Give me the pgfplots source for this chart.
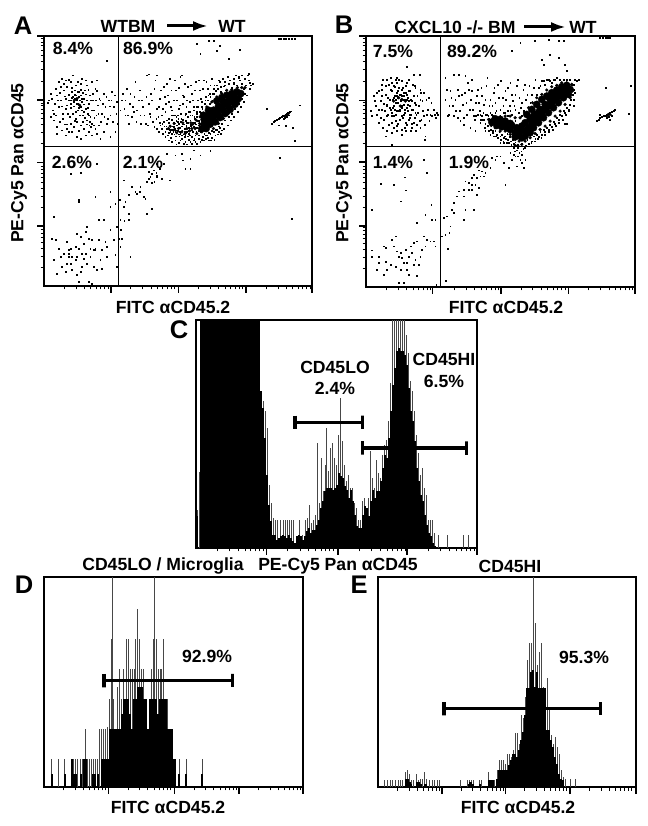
\documentclass[border=0pt]{standalone}
\usepackage{fontspec}
\setmainfont{Liberation Sans}
\usepackage{pgfplots}
\pgfplotsset{compat=1.18}
\usetikzlibrary{arrows.meta}
\pgfplotsset{
 flow/.style={scale only axis,axis line style={line width=2.3pt},
  tick align=outside,xticklabels={},yticklabels={},xtick pos=bottom,ytick pos=left,
  major tick length=7pt,minor tick length=3.5pt,
  every tick/.style={black,line width=1.1pt},
  every major tick/.style={black,line width=1.6pt},
  every minor tick/.style={black,line width=0.8pt},clip=true},
 dots/.style={only marks,mark=square*,mark size=0.42pt,black,mark options={draw=none,fill=black}},
 mid/.style={only marks,mark=*,mark size=1.4pt,black,mark options={draw=none,fill=black}},
 core/.style={only marks,mark=*,mark size=3.6pt,black,mark options={draw=none,fill=black}},
 spike/.style={ycomb,black!72,line width=0.7pt,mark=none},
 solid core/.style={ycomb,black,line width=2.15pt,mark=none},
 gate/.style={black,line width=3.4pt,mark=none},
}
\begin{document}
\begin{tikzpicture}
\path[use as bounding box] (0,0) rectangle (647pt,826pt);

% ---------- Panel A
\begin{axis}[flow,at={(44pt,790pt)},anchor=north west,width=268pt,height=250pt,
 xmin=131,xmax=936,ymin=107,ymax=858,y dir=reverse,
 xtick={332,535,738,936},
 minor xtick={191,227,252,271,287,301,313,323,392,428,453,472,488,502,514,524,595,631,656,675,691,705,717,727,798,834,859,878,894,908,920,930},
 ytick={678,487,300,107},
 minor ytick={801,768,745,727,712,699,688,679,621,588,565,547,532,519,508,499,430,397,374,356,341,328,317,308,242,208,184,165,150,136,125,115}]
\addplot[dots] coordinates {(155,295)(162,310)(170,285)(175,320)(182,300)(188,340)(190,270)(196,295)(200,315)(205,283)(208,350)(212,300)(215,275)(218,290)(220,305)(222,295)(225,285)(228,310)(230,298)(232,330)(235,290)(238,300)(240,320)(242,285)(245,305)(248,345)(250,295)(252,270)(255,325)(258,300)(260,360)(262,340)(265,310)(268,285)(270,350)(275,370)(278,300)(280,330)(285,265)(288,345)(292,315)(295,375)(300,300)(305,340)(310,280)(315,320)(320,370)(325,300)(330,345)(335,275)(340,320)(345,395)(350,305)(160,360)(170,380)(178,365)(185,390)(192,372)(198,385)(205,395)(212,370)(220,380)(228,365)(235,392)(242,375)(250,385)(258,372)(265,395)(272,380)(280,375)(290,400)(185,235)(195,240)(205,238)(218,225)(232,245)(245,235)(200,260)(225,255)(260,255)(180,260)(300,415)(240,415)(320,180)(210,520)(240,517)(290,490)(215,292)(222,283)(228,300)(235,275)(210,310)(243,295)(236,322)(250,335)(226,335)(265,345)
(142,308)(150,280)(158,330)(165,345)(172,300)(178,278)(183,318)(187,355)(192,288)(197,325)(203,340)(206,300)(211,322)(214,262)(217,340)(221,318)(224,270)(227,355)(231,275)(233,310)(237,345)(241,268)(244,330)(247,278)(251,312)(254,352)(257,282)(261,322)(264,268)(267,375)(271,300)(274,330)(277,280)(282,352)(286,300)(290,272)(294,340)(297,295)(302,365)(307,310)(312,350)(318,290)(323,355)(328,318)(333,300)(338,365)(343,285)(348,340)(352,370)(165,265)(175,245)(190,250)(210,245)(240,250)(255,240)(275,245)(290,240)(170,400)(195,405)(215,395)(230,410)(255,405)(275,405)(310,395)(330,410)(160,340)(150,350)(146,300)(200,372)(222,362)(248,365)(268,365)(285,385)
(365,300)(372,325)(380,265)(388,310)(395,350)(402,290)(410,330)(418,270)(425,300)(432,345)(440,225)(445,310)(452,280)(458,365)(465,240)(470,325)(478,295)(485,345)(490,260)(496,310)(503,285)(508,235)(515,330)(520,300)(526,270)(532,345)(538,315)(545,225)(550,290)(556,340)(562,260)(568,305)(574,280)(580,330)(586,245)(592,300)(598,270)(604,320)(610,240)(616,290)(622,265)(628,310)(634,235)(640,280)(375,345)(385,370)(398,320)(408,365)(420,345)(436,370)(448,340)(462,380)(474,350)(486,370)(495,335)(505,355)(512,320)(524,345)(535,325)(548,310)(558,320)(570,345)(582,350)(590,335)(640,120)(650,150)(625,120)(720,147)(685,175)(600,160)(590,130)(660,135)
(360,330)(368,280)(375,300)(382,345)(390,280)(400,335)(405,245)(415,300)(422,370)(428,320)(438,290)(443,375)(450,350)(455,300)(462,265)(468,355)(475,320)(482,270)(488,325)(493,290)(500,250)(506,305)(513,270)(518,345)(523,240)(530,300)(536,262)(541,340)(547,285)(553,250)(560,300)(565,335)(572,255)(578,300)(583,270)(588,320)(595,240)(602,295)(608,265)(612,310)(618,245)(624,285)(630,255)(636,300)(642,255)(648,290)(655,240)(662,260)(668,235)(675,255)(682,230)(690,240)(700,235)(708,225)(716,232)(724,225)(540,230)(470,225)(445,222)(715,230)(700,250)(745,220)
(480,375)(485,385)(490,365)(495,395)(498,378)(502,405)(505,368)(508,388)(511,412)(514,358)(516,378)(519,395)(521,368)(524,385)(526,408)(528,362)(530,375)(532,392)(534,355)(536,370)(538,382)(540,400)(542,365)(544,378)(546,390)(548,358)(550,372)(552,385)(554,410)(556,362)(558,376)(560,395)(562,350)(564,368)(566,382)(568,405)(570,360)(572,374)(574,390)(576,345)(578,366)(580,380)(582,415)(584,355)(586,372)(588,395)(590,340)(592,362)(594,384)(596,405)(598,350)(600,372)(602,392)(604,418)(606,345)(608,410)(612,400)(616,415)(620,405)(625,420)(630,400)(635,412)(640,395)(645,405)(650,388)(655,395)(660,382)(665,390)(525,420)(535,428)(545,415)(555,425)(565,418)(575,430)(585,425)(595,415)(510,395)(515,400)(520,380)(527,390)(533,365)(539,395)(547,372)(553,395)(559,368)(565,392)(571,378)(577,395)(583,368)(589,382)(595,362)(601,380)(607,362)(500,385)(492,378)(486,372)(478,368)(510,375)(522,402)(537,408)(549,402)(563,408)
(470,385)(475,395)(488,400)(495,410)(505,420)(515,425)(528,432)(540,420)(550,430)(560,432)(570,425)(580,420)(590,430)(600,425)(610,420)(615,405)(622,412)(632,420)(642,418)(652,402)(662,400)(672,385)(682,375)(692,360)(702,350)(712,335)(722,320)(732,305)(740,285)(748,265)(752,255)(618,378)(595,392)(585,405)(575,410)(565,400)(555,405)(545,405)(535,402)(525,395)(515,388)(505,398)(555,385)(543,355)(528,350)(515,345)(500,360)(540,340)(555,345)(568,335)(580,320)(592,320)(605,305)(615,300)(628,280)(640,265)(650,255)(660,245)(675,245)
(590,350)(598,335)(606,325)(614,310)(622,300)(630,290)(638,280)(646,272)(654,265)(662,275)(670,258)(678,270)(686,250)(694,262)(702,248)(710,255)(718,240)(726,250)(734,235)(742,225)(750,248)(758,250)(738,255)(745,240)(730,265)(722,275)(735,280)(725,295)(715,310)(705,325)(695,340)(685,350)(675,360)(665,370)(655,378)(645,388)(635,392)(625,398)(615,392)(600,395)(605,380)(595,375)
(500,460)(525,465)(545,460)(600,465)(630,452)(580,450)(570,475)(548,480)(555,505)(570,505)(470,490)(480,498)(460,510)(445,515)(468,518)(450,530)(470,530)(485,535)(508,540)(440,545)(455,548)(462,545)(420,560)(395,560)(405,575)(418,575)(430,590)(410,580)(385,585)(375,605)(435,595)(370,620)(455,625)(440,640)(385,640)(360,660)(372,662)(385,660)(362,690)(390,770)(838,473)(875,657)(370,540)(358,600)(365,715)(360,740)(470,525)(455,520)(478,505)(445,535)(490,490)
(800,325)(815,370)(820,365)(825,362)(830,358)(835,356)(840,352)(845,350)(850,348)(853,345)(856,342)(860,340)(864,338)(868,335)(872,333)(855,352)(848,345)(860,350)(850,355)(865,345)(858,376)(878,382)(835,375)(900,315)(883,422)(842,115)(850,115)(858,115)(866,115)(874,115)(883,115)(835,115)
(160,650)(155,715)(165,720)(175,745)(200,725)(205,750)(205,770)(210,790)(225,740)(235,745)(240,710)(230,700)(245,760)(250,730)(255,695)(265,715)(270,745)(280,750)(285,745)(295,720)(300,780)(305,750)(315,725)(320,770)(330,690)(340,720)(350,680)(295,660)(310,660)(235,600)(235,605)(285,590)(330,575)(330,620)(345,610)(160,780)(170,820)(185,800)(195,815)(215,810)(230,825)(240,815)(250,775)(260,790)(270,770)(280,800)(290,810)(305,805)(180,770)(200,790)(225,780)(190,760)(215,770)(245,800)(265,845)(275,850)(235,845)(260,680)(345,765)(350,800)(355,715)(205,760)(212,745)(283,748)(230,770)(255,760)(275,720)(320,740)};
\addplot[mid] coordinates {(510,378)(522,370)(535,385)(548,368)(560,385)(572,368)(585,385)(598,370)(605,395)(590,400)(575,385)(530,398)(545,395)(520,390)(505,385)(555,400)(568,392)(605,340)(620,320)(635,305)(650,290)(665,280)(680,270)(695,268)(712,262)(725,262)(735,262)(640,385)(655,370)(670,355)(685,340)(700,320)(715,305)(725,285)(600,350)(588,360)(578,372)(230,295)(222,300)(238,315)(855,348)(860,345)(865,340)};
\addplot[core] coordinates {(612,372)(622,362)(632,352)(642,342)(652,332)(662,322)(672,312)(682,304)(692,298)(702,290)(626,345)(640,330)(655,318)(670,305)(640,358)(655,345)(670,330)(685,318)(612,358)(700,305)(605,385)(618,385)(630,372)(645,365)(660,352)(675,340)(690,328)(705,312)(715,295)(722,280)(650,302)(665,292)(680,285)(695,280)(710,275)(625,330)(610,345)};
\addplot[black,line width=1.1pt] coordinates {(356,107)(356,858)};
\addplot[black,line width=1.1pt] coordinates {(131,440)(936,440)};
\end{axis}

% ---------- Panel B
\begin{axis}[flow,at={(366pt,790pt)},anchor=north west,width=269pt,height=251pt,
 xmin=122,xmax=930,ymin=110,ymax=862,y dir=reverse,
 xtick={322,527,730,930},
 minor xtick={183,218,244,263,279,293,305,315,388,423,449,468,484,498,510,520,588,623,649,668,684,698,710,720,791,826,852,871,887,901,913,923},
 ytick={680,488,303,110},
 minor ytick={805,772,749,731,716,703,692,683,623,590,567,549,534,521,510,501,431,398,375,357,342,329,318,309,245,211,187,168,153,139,128,118}]
\addplot[dots] coordinates {(145,290)(150,320)(155,345)(160,275)(165,305)(170,330)(172,240)(176,360)(180,285)(184,315)(188,345)(190,255)(194,300)(198,370)(200,275)(203,325)(206,350)(208,290)(210,240)(212,310)(214,380)(216,275)(218,295)(220,335)(222,285)(224,360)(226,305)(228,270)(230,325)(232,290)(234,345)(236,315)(238,385)(240,280)(242,300)(244,250)(246,335)(248,295)(250,360)(252,320)(254,275)(256,345)(258,305)(260,385)(262,330)(265,290)(268,355)(270,265)(272,315)(275,375)(278,340)(282,225)(285,300)(288,360)(292,335)(296,280)(300,410)(305,345)(310,295)(315,345)(320,350)(328,345)(335,340)(205,295)(215,290)(225,285)(235,290)(245,285)(200,340)(212,345)(222,330)(232,355)(244,325)(252,345)(178,335)(190,375)(205,385)(218,372)(230,392)(245,375)(258,372)(270,340)(168,255)(195,235)(245,203)(220,240)(240,260)(207,262)(140,350)(135,335)(180,410)(200,435)(265,225)(298,420)(285,225)
(148,305)(155,280)(160,330)(165,355)(170,290)(175,312)(180,260)(183,350)(187,295)(192,325)(195,270)(198,350)(202,300)(205,260)(208,330)(212,365)(215,250)(218,310)(221,265)(224,335)(227,285)(229,350)(233,265)(236,300)(239,330)(241,370)(244,285)(247,315)(251,275)(253,355)(256,300)(259,330)(262,255)(266,370)(269,310)(273,345)(276,290)(280,320)(284,365)(287,280)(291,305)(295,350)(299,375)(303,300)(308,330)(312,365)(318,310)(325,330)(332,355)(338,345)(160,370)(172,385)(185,395)(198,400)(215,395)(228,405)(242,395)(256,395)(272,395)(285,385)(170,270)(185,240)(200,250)(215,235)(230,245)(250,240)(268,260)(285,270)(215,280)(225,300)(235,280)(245,300)(205,320)(215,335)(228,320)(238,340)(250,305)(195,330)(185,320)(210,300)(228,290)
(365,270)(372,320)(378,295)(385,225)(392,335)(400,290)(405,365)(412,315)(418,280)(425,345)(430,270)(436,300)(442,330)(448,360)(455,290)(460,310)(468,265)(474,340)(480,300)(486,235)(492,320)(498,345)(505,280)(510,310)(518,255)(525,330)(532,295)(540,275)(548,335)(555,250)(562,305)(570,285)(578,240)(586,325)(594,270)(602,300)(612,260)(620,285)(630,240)(640,265)(650,245)(660,255)(670,240)(680,250)(690,240)(610,345)(595,335)(370,345)(385,350)(398,355)(415,375)(435,385)(450,395)(465,345)(440,240)(420,230)(400,225)(360,235)(650,180)(675,165)(700,175)(725,215)(628,125)(670,120)(700,125)(715,123)(560,155)(585,130)(655,195)(720,195)
(360,300)(368,350)(375,275)(382,320)(390,300)(397,270)(403,335)(410,285)(416,355)(423,310)(428,250)(433,330)(439,275)(445,350)(451,310)(457,270)(463,335)(470,290)(476,315)(483,260)(489,350)(495,300)(501,320)(507,265)(513,335)(520,295)(527,245)(534,320)(541,300)(547,265)(553,320)(560,285)(567,320)(574,260)(582,295)(590,310)(598,255)(606,285)(615,310)(625,265)(635,285)(645,260)(655,245)(665,240)(675,245)(685,240)(695,235)(705,240)(715,240)(725,240)(735,240)(745,255)(755,245)(480,345)(465,360)(452,350)(510,340)(495,340)(540,340)(555,335)(570,330)
(470,350)(476,362)(480,372)(484,345)(488,380)(492,358)(496,390)(500,345)(503,400)(506,410)(510,395)(514,405)(518,415)(522,398)(526,420)(530,405)(534,425)(538,410)(542,418)(546,402)(550,430)(554,412)(558,435)(562,420)(566,445)(570,428)(574,452)(578,435)(582,460)(586,440)(590,432)(594,448)(598,425)(602,438)(606,420)(610,432)(615,415)(620,425)(625,410)(630,418)(635,405)(640,412)(645,398)(650,405)(655,390)(660,398)(665,385)(670,392)(675,375)(680,382)(685,368)(690,372)(695,355)(700,362)(705,345)(710,350)(715,335)(720,340)(725,325)(730,330)(735,315)(738,300)(742,285)(745,270)(740,255)(750,240)(760,240)(745,320)(725,372)(480,395)(495,405)(465,370)(458,345)(555,460)(570,470)(585,480)(600,480)(560,480)(575,500)(595,505)(550,505)(540,440)(528,440)(600,340)(590,350)(580,340)(570,365)(560,345)(548,350)(535,340)(525,350)
(470,360)(478,385)(490,395)(502,395)(512,410)(525,410)(535,415)(548,420)(556,425)(565,432)(578,445)(588,455)(598,445)(608,440)(618,430)(628,425)(638,418)(648,415)(660,405)(672,398)(682,390)(692,380)(702,370)(712,360)(722,345)(732,335)(745,300)(748,280)(555,440)(568,455)(578,470)(590,465)(545,430)(535,430)(525,430)(590,490)(565,465)
(500,475)(510,480)(525,470)(535,490)(515,470)(495,505)(470,515)(460,512)(480,520)(445,525)(455,535)(465,530)(475,530)(440,535)(430,550)(420,545)(450,555)(460,565)(440,570)(415,570)(400,575)(395,590)(415,590)(455,585)(420,630)(445,630)(385,610)(380,630)(365,650)(355,655)(385,640)(415,660)(375,680)(350,710)(360,705)(372,700)(368,748)(362,842)(440,555)(430,570)(540,555)
(815,365)(820,360)(825,355)(830,352)(835,350)(840,348)(845,345)(850,342)(855,340)(860,338)(865,335)(870,330)(845,355)(852,352)(860,348)(825,345)(855,362)(910,342)(843,265)(918,260)(720,372)(825,115)(833,115)(841,115)(849,115)(855,115)
(140,752)(140,770)(160,772)(175,740)(180,745)(155,810)(175,825)(185,810)(200,720)(205,740)(210,710)(215,755)(220,770)(225,760)(230,775)(235,790)(240,750)(245,790)(250,770)(255,740)(260,760)(265,730)(270,780)(275,725)(280,795)(285,770)(290,750)(295,710)(300,740)(305,720)(315,725)(325,725)(330,740)(300,645)(275,670)(320,660)(330,660)(318,615)(138,630)(225,605)(240,572)(205,555)(165,552)(237,533)(295,480)(305,520)(333,855)(220,848)(235,850)(250,825)(275,828)(195,795)(210,800)(225,810)(245,810)(265,795)(160,790)(180,785)};
\addplot[mid] coordinates {(490,360)(498,378)(510,385)(525,395)(540,395)(555,405)(570,420)(582,425)(590,435)(600,425)(615,415)(630,402)(645,390)(660,380)(675,365)(690,350)(705,335)(720,315)(735,295)(742,275)(740,255)(725,250)(710,250)(695,258)(680,262)(665,272)(650,285)(635,295)(622,310)(610,325)(598,340)(585,355)(570,355)(555,350)(540,350)(525,352)(505,352)(578,438)(570,438)(220,295)(230,300)(225,320)(205,305)(240,305)(850,345)(855,345)(845,350)};
\addplot[core] coordinates {(600,395)(610,385)(620,375)(630,365)(640,355)(650,345)(660,330)(670,320)(680,310)(690,300)(700,290)(712,280)(722,268)(615,360)(630,345)(645,330)(660,315)(675,300)(690,285)(705,272)(585,395)(600,410)(615,400)(590,380)(575,385)(560,378)(545,372)(530,368)(515,365)(570,400)(555,390)(600,370)(605,345)(620,330)(635,315)(650,300)(665,290)(680,280)(695,272)(710,262)(725,258)(735,270)(730,285)(715,295)(700,310)(685,325)(670,340)(655,355)(640,370)(625,385)(610,398)(590,415)(580,408)(570,412)(545,385)(530,382)(515,378)(500,368)(510,358)(525,360)(540,365)(555,372)(655,330)(640,340)(625,350)(680,295)(695,295)(710,290)};
\addplot[black,line width=1.1pt] coordinates {(345,110)(345,862)};
\addplot[black,line width=1.1pt] coordinates {(122,441)(930,441)};
\end{axis}

% ---------- Panel C
\begin{axis}[flow,at={(196pt,506pt)},anchor=north west,width=281pt,height=228pt,
 xmin=78,xmax=922,ymin=0,ymax=684,
 xtick={290,505,712,922},ytick=\empty,
 minor xtick={142,179,205,225,242,256,268,279,354,391,417,437,454,468,480,491,569,606,632,652,669,683,695,706,776,813,839,859,876,890,902,913}]
\addplot[spike] coordinates {(81,115)(88,228)(279,440)(285,410)(291,360)(297,190)(303,135)(309,90)(315,85)(321,85)(330,85)(339,85)(345,85)(351,85)(357,85)(363,85)(369,85)(378,10)(387,85)(396,40)(405,85)(411,90)(417,130)(423,75)(429,85)(435,100)(441,315)(447,135)(453,270)(459,170)(465,250)(471,360)(477,230)(483,300)(489,315)(495,270)(501,250)(507,340)(513,450)(519,320)(525,250)(531,200)(537,220)(543,180)(549,180)(555,135)(561,120)(567,85)(573,85)(579,140)(585,150)(591,120)(597,150)(603,290)(609,210)(615,180)(621,265)(627,225)(633,210)(639,280)(645,310)(651,325)(657,380)(663,495)(669,684)(675,684)(681,684)(687,684)(693,684)(699,684)(705,684)(711,640)(717,585)(723,500)(729,470)(735,410)(741,340)(747,285)(753,220)(759,240)(765,180)(771,160)(777,85)(783,85)(789,85)(795,45)(805,40)(833,40)(880,40)(895,40)};
\addplot[solid core] coordinates {(81,95)(93,684)(99,684)(105,684)(111,684)(117,684)(123,684)(129,684)(135,684)(141,684)(147,684)(153,684)(159,684)(165,684)(171,684)(177,684)(183,684)(189,684)(195,684)(201,684)(207,684)(213,684)(219,684)(225,684)(231,684)(237,684)(243,684)(249,684)(255,684)(261,684)(267,684)(273,470)(279,420)(285,330)(291,220)(297,130)(303,80)(309,40)(315,40)(321,25)(327,30)(333,35)(339,40)(345,35)(351,30)(357,40)(363,30)(369,20)(375,15)(381,35)(387,40)(393,35)(399,25)(405,35)(411,50)(417,60)(423,45)(429,55)(435,55)(441,70)(447,85)(453,120)(459,140)(465,170)(471,180)(477,180)(483,180)(489,175)(495,180)(501,190)(507,225)(513,215)(519,210)(525,185)(531,175)(537,150)(543,175)(549,140)(555,100)(561,65)(567,60)(573,60)(579,100)(585,125)(591,120)(597,95)(603,140)(609,175)(615,150)(621,170)(627,170)(633,200)(639,240)(645,280)(651,270)(657,330)(663,410)(669,490)(675,540)(681,590)(687,600)(693,590)(699,590)(705,580)(711,550)(717,480)(723,410)(729,380)(735,320)(741,240)(747,200)(753,160)(759,140)(765,100)(771,70)(777,45)(783,35)(789,15)(795,5)};
\addplot[gate] coordinates {(375,397)(375,357)(375,377)(578,377)(578,397)(578,357)};
\addplot[gate] coordinates {(578,320)(578,280)(578,300)(890,300)(890,320)(890,280)};
\end{axis}

% ---------- Panel D
\begin{axis}[flow,at={(44pt,249pt)},anchor=north west,width=259pt,height=210pt,
 xmin=131,xmax=908,ymin=0,ymax=630,
 xtick={325,523,716,908},ytick=\empty,
 minor xtick={189,224,248,267,282,295,306,316,383,418,442,461,476,489,500,510,581,616,640,659,674,687,698,708,774,809,833,852,867,880,891,901}]
\addplot[spike] coordinates {(153,85)(175,85)(193,85)(212,85)(218,85)(224,85)(230,85)(240,85)(246,85)(255,175)(262,85)(268,85)(274,85)(280,85)(286,85)(292,85)(298,175)(303,175)(310,175)(315,175)(322,180)(328,265)(333,445)(336,630)(340,265)(346,175)(352,300)(358,355)(364,265)(370,355)(376,265)(379,445)(385,445)(391,355)(397,355)(403,355)(406,445)(412,535)(418,445)(424,355)(430,355)(436,265)(442,175)(448,265)(454,355)(458,445)(463,630)(467,445)(473,355)(479,355)(484,355)(490,445)(496,265)(502,265)(508,175)(514,175)(520,85)(526,85)(538,85)(558,85)(605,85)};
\addplot[solid core] coordinates {(154,40)(193,40)(215,85)(220,40)(228,40)(243,40)(252,85)(258,85)(278,40)(284,40)(292,40)(304,85)(310,85)(316,85)(322,85)(328,175)(334,175)(340,175)(346,175)(352,175)(358,175)(364,220)(370,265)(376,265)(382,265)(388,220)(394,175)(400,265)(406,265)(412,300)(418,300)(424,300)(430,265)(436,265)(442,175)(448,265)(454,265)(460,265)(466,265)(472,220)(478,265)(484,265)(490,265)(496,265)(502,175)(508,175)(514,175)(520,85)(525,85)(537,40)(558,40)(604,40)};
\addplot[gate] coordinates {(311,339)(311,299)(311,319)(697,319)(697,339)(697,299)};
\end{axis}

% ---------- Panel E
\begin{axis}[flow,at={(378pt,249pt)},anchor=north west,width=258pt,height=210pt,
 xmin=152,xmax=928,ymin=0,ymax=628,
 xtick={344,535,730,928},ytick=\empty,
 minor xtick={210,245,269,288,303,316,327,337,402,437,461,480,495,508,519,529,593,628,652,671,686,699,710,720,788,823,847,866,881,894,905,915}]
\addplot[spike] coordinates {(172,20)(180,20)(188,20)(196,20)(204,20)(212,20)(218,20)(226,20)(234,45)(240,50)(246,40)(252,20)(258,20)(267,40)(272,20)(279,25)(285,25)(292,45)(298,25)(306,20)(314,20)(322,20)(329,20)(335,20)(400,20)(422,20)(428,20)(434,20)(440,20)(456,20)(464,20)(485,45)(490,20)(497,20)(503,20)(510,50)(516,80)(522,80)(528,80)(534,70)(540,100)(546,100)(552,90)(558,110)(564,160)(570,160)(576,130)(582,215)(588,205)(594,270)(600,380)(606,430)(612,430)(618,628)(624,490)(630,365)(636,405)(642,430)(648,300)(654,270)(660,325)(666,230)(672,155)(678,130)(684,150)(690,120)(696,100)(702,50)(708,30)(714,25)(730,25)(745,25)};
\addplot[solid core] coordinates {(236,25)(242,25)(248,15)(252,10)(270,15)(276,15)(282,10)(295,10)(425,10)(430,15)(437,10)(460,10)(487,20)(493,20)(499,20)(511,25)(517,50)(523,50)(529,50)(535,50)(541,50)(547,65)(553,80)(559,100)(565,100)(571,90)(577,110)(583,140)(589,165)(595,215)(601,295)(607,295)(613,345)(619,350)(625,300)(631,345)(637,295)(643,295)(649,295)(655,295)(661,170)(667,170)(673,140)(679,120)(685,90)(691,70)(697,40)(703,25)(709,20)};
\addplot[gate] coordinates {(350,254)(350,214)(350,234)(822,234)(822,254)(822,214)};
\end{axis}

% ---------- Text (x right, y down, in reference pixels)
\begin{scope}[x=1pt,y=-1pt,shift={(0pt,826pt)},
  every node/.style={font=\fontsize{17.6}{20}\selectfont\bfseries,inner sep=0pt,black},
  letter/.style={font=\fontsize{25.5}{27}\selectfont\bfseries}]
\node[letter] at (23,26) {A};
\node[letter] at (344,25) {B};
\node[letter] at (179,330) {C};
\node[letter] at (24,585) {D};
\node[letter] at (359,585) {E};
\node at (128,26) {WTBM};
\draw[line width=3pt,-{Latex[length=15pt,width=10pt]}] (167,26) -- (208,26);
\node at (232,26) {WT};
\node at (455,27) {CXCL10 -/- BM};
\draw[line width=3pt,-{Latex[length=15pt,width=10pt]}] (524,27) -- (566,27);
\node at (583,27) {WT};
\node at (73,48) {8.4\%};
\node at (148,48) {86.9\%};
\node at (72,162) {2.6\%};
\node at (143,162) {2.1\%};
\node at (393,51) {7.5\%};
\node at (472,51) {89.2\%};
\node at (393,162) {1.4\%};
\node at (469,162) {1.9\%};
\node at (173,307) {FITC αCD45.2};
\node at (506,307) {FITC αCD45.2};
\node[rotate=90] at (19,163) {PE-Cy5 Pan αCD45};
\node[rotate=90] at (344,163) {PE-Cy5 Pan αCD45};
\node at (335,367) {CD45LO};
\node at (335,388) {2.4\%};
\node at (444,359) {CD45HI};
\node at (444,381) {6.5\%};
\node at (163,566) {CD45LO / Microglia};
\node at (338,566) {PE-Cy5 Pan αCD45};
\node at (510,566) {CD45HI};
\node at (207,656) {92.9\%};
\node at (168,807) {FITC αCD45.2};
\node at (584,657) {95.3\%};
\node at (518,807) {FITC αCD45.2};
\end{scope}
\end{tikzpicture}
\end{document}
